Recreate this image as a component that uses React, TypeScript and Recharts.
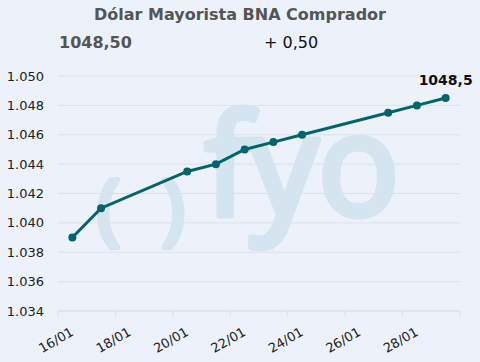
import { LineChart, Line, XAxis, YAxis, CartesianGrid, LabelList } from 'recharts'

const dates = ['16/01', '17/01', '20/01', '21/01', '22/01', '23/01', '24/01', '27/01', '28/01', '29/01']
const values = [1039, 1041, 1043.5, 1044, 1045, 1045.5, 1046, 1047.5, 1048, 1048.5]
const xTicks = ['16/01', '18/01', '20/01', '22/01', '24/01', '26/01', '28/01', '30/01']
const yTicks = [1034, 1036, 1038, 1040, 1042, 1044, 1046, 1048, 1050]

const TITLE = 'Dólar Mayorista BNA Comprador'
const LAST = '1048,50'
const CHANGE = '+ 0,50'

const FONT = '"DejaVu Sans", Verdana, sans-serif'
const TEAL = '#02656b'
const MARK = '#d4e5ef'

const dayOf = (s: string) => parseInt(s.split('/')[0], 10)

// points are stamped at midday
const data = dates.map((d, i) => ({ t: dayOf(d) + 0.5, value: values[i], date: d }))

const fmtY = (v: number) => (v / 1000).toFixed(3)
const fmtLabel = (v: number) => String(v).replace('.', ',')

function XTick(props: any) {
  const { x, y, payload } = props
  const label = xTicks.find((l) => dayOf(l) === payload.value)
  if (!label || label === '30/01') return null
  return (
    <text
      transform={`translate(${x - 2}, ${y + 21}) rotate(-30)`}
      textAnchor="middle"
      dy="0.35em"
      fontSize={13}
      fontFamily={FONT}
      fill="#222"
    >
      {label}
    </text>
  )
}

function LastLabel(props: any) {
  const { x, y, index } = props
  if (index !== data.length - 1) return null
  return (
    <text x={x} y={y - 13} textAnchor="middle" fontSize={14} fontWeight="bold" fontFamily={FONT} fill="#111">
      {fmtLabel(values[index])}
    </text>
  )
}

export default function App() {
  return (
    <div
      style={{
        position: 'fixed',
        left: 0,
        top: 0,
        width: 480,
        height: 362,
        background: '#edf1f9',
        fontFamily: FONT,
        overflow: 'hidden',
      }}
    >
      {/* watermark logo, thickened with a stroke */}
      <svg width={480} height={362} style={{ position: 'absolute', left: 0, top: 0 }}>
        <g fill={MARK} stroke={MARK} strokeLinejoin="round" fontFamily='"Open Sans", sans-serif'>
          <text x={97} y={235} fontSize={76} strokeWidth={6}>(</text>
          <text x={162} y={235} fontSize={76} strokeWidth={6}>)</text>
          <text x={205} y={215} fontSize={140} strokeWidth={7} textLength={194} lengthAdjust="spacingAndGlyphs">
            fyo
          </text>
        </g>
      </svg>
      <div
        style={{
          position: 'absolute',
          top: 5,
          left: 0,
          width: 480,
          textAlign: 'center',
          fontWeight: 'bold',
          fontSize: 16,
          color: '#555',
        }}
      >
        {TITLE}
      </div>
      <div style={{ position: 'absolute', top: 33, left: 59, fontWeight: 'bold', fontSize: 16, color: '#555' }}>
        {LAST}
      </div>
      <div style={{ position: 'absolute', top: 33, left: 264, fontSize: 16, color: '#111' }}>{CHANGE}</div>
      <div style={{ position: 'absolute', left: 0, top: 0 }}>
        <LineChart width={480} height={362} data={data} margin={{ top: 76, right: 20, bottom: 0, left: 0 }}>
          <CartesianGrid vertical={false} stroke="#dde1e7" />
          <XAxis
            dataKey="t"
            type="number"
            domain={[16, 30]}
            ticks={xTicks.map(dayOf)}
            height={51}
            stroke="#dde1e7"
            tickSize={6}
            tick={<XTick />}
            interval={0}
          />
          <YAxis
            type="number"
            domain={[1034, 1050]}
            ticks={yTicks}
            width={58}
            axisLine={false}
            tickLine={false}
            tickMargin={8}
            tickFormatter={fmtY}
            tick={{ fontSize: 13, fontFamily: FONT, fill: '#222' }}
            interval={0}
          />
          <Line
            type="linear"
            dataKey="value"
            stroke={TEAL}
            strokeWidth={3}
            dot={{ r: 4, fill: TEAL, stroke: 'none' }}
            activeDot={false}
            isAnimationActive={false}
          >
            <LabelList dataKey="value" content={<LastLabel />} />
          </Line>
        </LineChart>
      </div>
    </div>
  )
}
